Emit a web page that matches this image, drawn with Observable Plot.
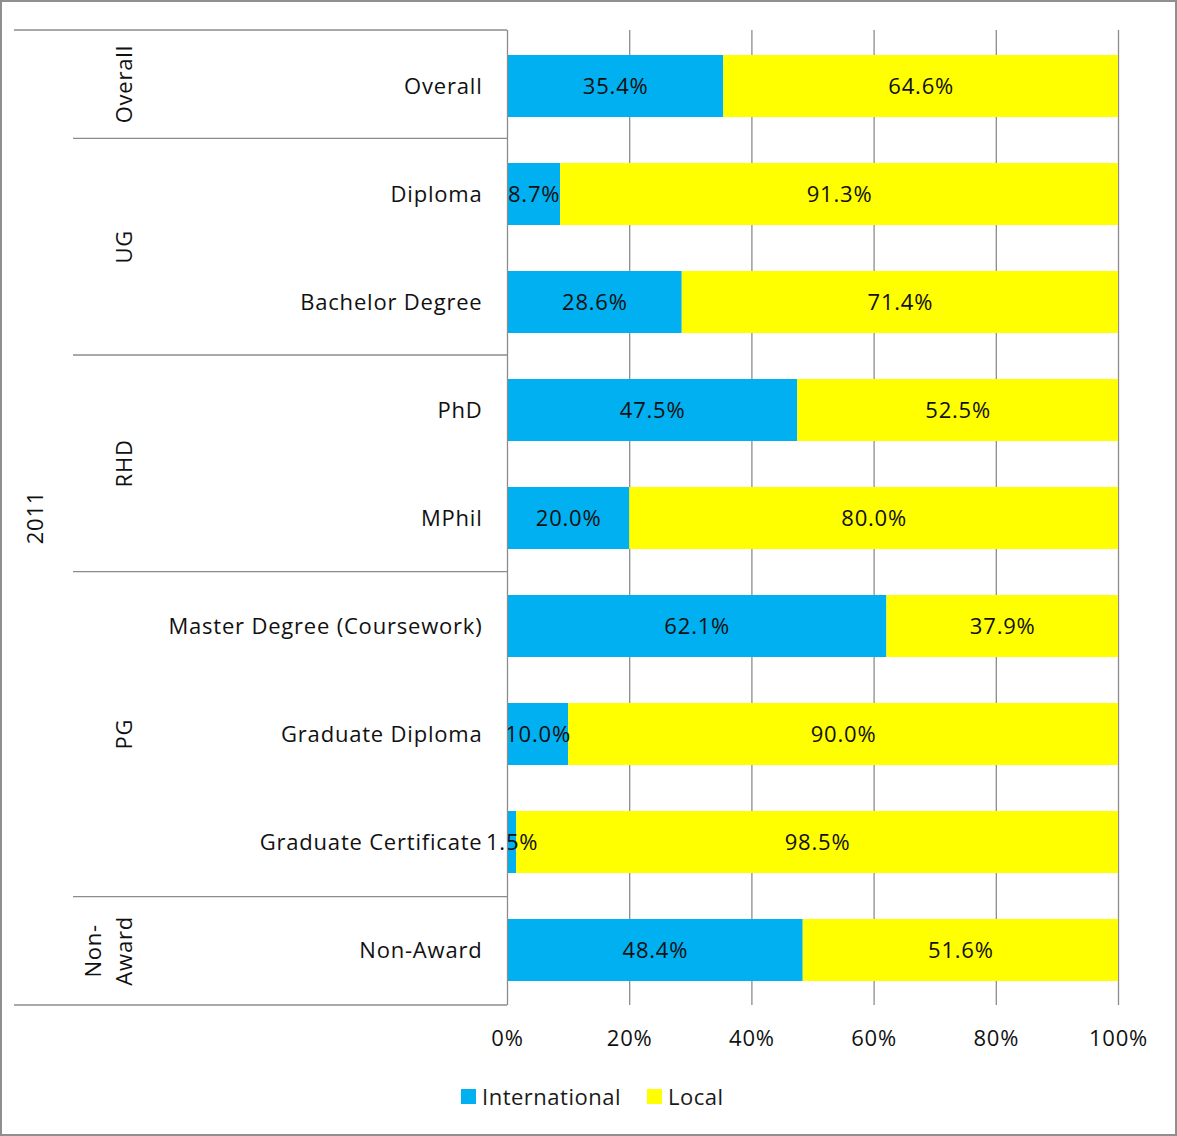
<!DOCTYPE html>
<html>
<head>
<meta charset="utf-8">
<script src="https://cdn.jsdelivr.net/npm/d3@7"></script>
<script src="https://cdn.jsdelivr.net/npm/@observablehq/plot@0.6"></script>
<style>
  html, body { margin: 0; padding: 0; background: #fff; }
  #chart {
    position: relative;
    width: 1177px; height: 1136px;
    box-sizing: border-box;
    border: 2px solid #8f8f8f;
    font-family: "Open Sans", Lato, sans-serif;
    color: #111;
    overflow: hidden;
  }
  #chart svg { display: block; letter-spacing: 0.8px; }
  #legend {
    position: absolute; left: 459px; top: 1079px;
    display: flex; align-items: center; gap: 26px;
    font-size: 22px; color: #1a1a1a; letter-spacing: 0.5px;
  }
  #legend .item { display: flex; align-items: center; gap: 6px; }
  #legend .sw { width: 15px; height: 15px; display: inline-block; }
</style>
</head>
<body>
<div id="chart"><div id="legend"></div></div>
<script>
// Programme categories (top to bottom) and the group each belongs to
const categories = ["Overall", "Diploma", "Bachelor Degree", "PhD", "MPhil",
  "Master Degree (Coursework)", "Graduate Diploma", "Graduate Certificate", "Non-Award"];
const groupOf = ["Overall", "UG", "UG", "RHD", "RHD", "PG", "PG", "PG", "Non-Award"];
const groupLabels = {"Overall": ["Overall"], "UG": ["UG"], "RHD": ["RHD"], "PG": ["PG"], "Non-Award": ["Non-", "Award"]};
const yearLabel = "2011";

// Share of students (%) by origin
const international = [35.4, 8.7, 28.6, 47.5, 20.0, 62.1, 10.0, 1.5, 48.4];
const local = [64.6, 91.3, 71.4, 52.5, 80.0, 37.9, 90.0, 98.5, 51.6];

const seriesNames = ["International", "Local"];
const seriesColors = ["#00B0F0", "#FFFF00"];
const xTicks = [0, 20, 40, 60, 80, 100];

(function draw() {
  const rows = [];
  categories.forEach((c, i) => {
    rows.push({category: c, series: "International", value: international[i]});
    rows.push({category: c, series: "Local", value: local[i]});
  });

  const W = 1173, H = 1062;
  const fontFamily = "'Open Sans', Lato, sans-serif";
  const fs = 22;

  const plot = Plot.plot({
    width: W,
    height: H,
    marginLeft: 505,
    marginRight: 57,
    marginTop: 28,
    marginBottom: H - 1003,
    style: {fontFamily, fontSize: fs + "px", color: "#111", background: "#fff"},
    x: {domain: [0, 100], ticks: xTicks, tickFormat: d => d + "%", label: null},
    y: {domain: categories, paddingInner: 0.43, paddingOuter: 0.215, label: null},
    color: {domain: seriesNames, range: seriesColors},
    marks: [
      Plot.gridX(xTicks.filter(d => d > 0), {stroke: "#8c8c8c", strokeOpacity: 1, strokeWidth: 1.3}),
      Plot.barX(rows, Plot.stackX({
        x: "value", y: "category", fill: "series", order: seriesNames
      })),
      Plot.text(rows, Plot.stackX({
        x: "value", y: "category", z: "series", order: seriesNames,
        text: d => d.value.toFixed(1) + "%",
        fill: "#111", fontSize: fs
      })),
      Plot.ruleX([0], {stroke: "#8c8c8c", strokeWidth: 1.3}),
      Plot.axisX({ticks: xTicks, tickFormat: d => d + "%", tickSize: 0, tickPadding: 25, fontSize: fs, label: null}),
      Plot.axisY({tickSize: 0, tickPadding: 25, fontSize: fs, label: null})
    ]
  });

  // Hierarchical category axis: separators, group labels and the year label
  const svg = d3.select(plot);
  const yScale = plot.scale("y");
  const [y0, y1] = yScale.range;
  const step = (y1 - y0) / categories.length;
  const bandEdge = k => y0 + k * step;
  const axisX = 505;

  const groups = [];
  groupOf.forEach((g, i) => {
    const last = groups[groups.length - 1];
    if (last && last.name === g) last.end = i + 1;
    else groups.push({name: g, start: i, end: i + 1});
  });

  const deco = svg.append("g").attr("stroke", "#8c8c8c").attr("stroke-width", 1.3);
  // outer rules at the top and bottom of the axis
  deco.append("line").attr("x1", 12).attr("x2", axisX).attr("y1", bandEdge(0)).attr("y2", bandEdge(0));
  deco.append("line").attr("x1", 12).attr("x2", axisX).attr("y1", bandEdge(categories.length)).attr("y2", bandEdge(categories.length));
  // separators between groups
  groups.slice(1).forEach(g => {
    deco.append("line").attr("x1", 71).attr("x2", axisX).attr("y1", bandEdge(g.start)).attr("y2", bandEdge(g.start));
  });

  const labels = svg.append("g").attr("font-family", fontFamily).attr("font-size", fs).attr("fill", "#111")
    .attr("text-anchor", "middle");
  groups.forEach(g => {
    const cy = (bandEdge(g.start) + bandEdge(g.end)) / 2;
    const lines = groupLabels[g.name];
    lines.forEach((t, j) => {
      const cx = 122 - (lines.length - 1 - j) * 31;
      labels.append("text")
        .attr("transform", `translate(${cx},${cy}) rotate(-90)`)
        .attr("dy", "0.35em")
        .text(t);
    });
  });
  labels.append("text")
    .attr("transform", `translate(33,${(bandEdge(0) + bandEdge(categories.length)) / 2}) rotate(-90)`)
    .attr("dy", "0.35em")
    .text(yearLabel);

  document.getElementById("chart").prepend(plot);

  // Legend below the chart
  const legend = d3.select("#legend");
  seriesNames.forEach((name, i) => {
    const item = legend.append("div").attr("class", "item");
    item.append("span").attr("class", "sw").style("background", seriesColors[i]);
    item.append("span").text(name);
  });
})();
</script>
</body>
</html>
